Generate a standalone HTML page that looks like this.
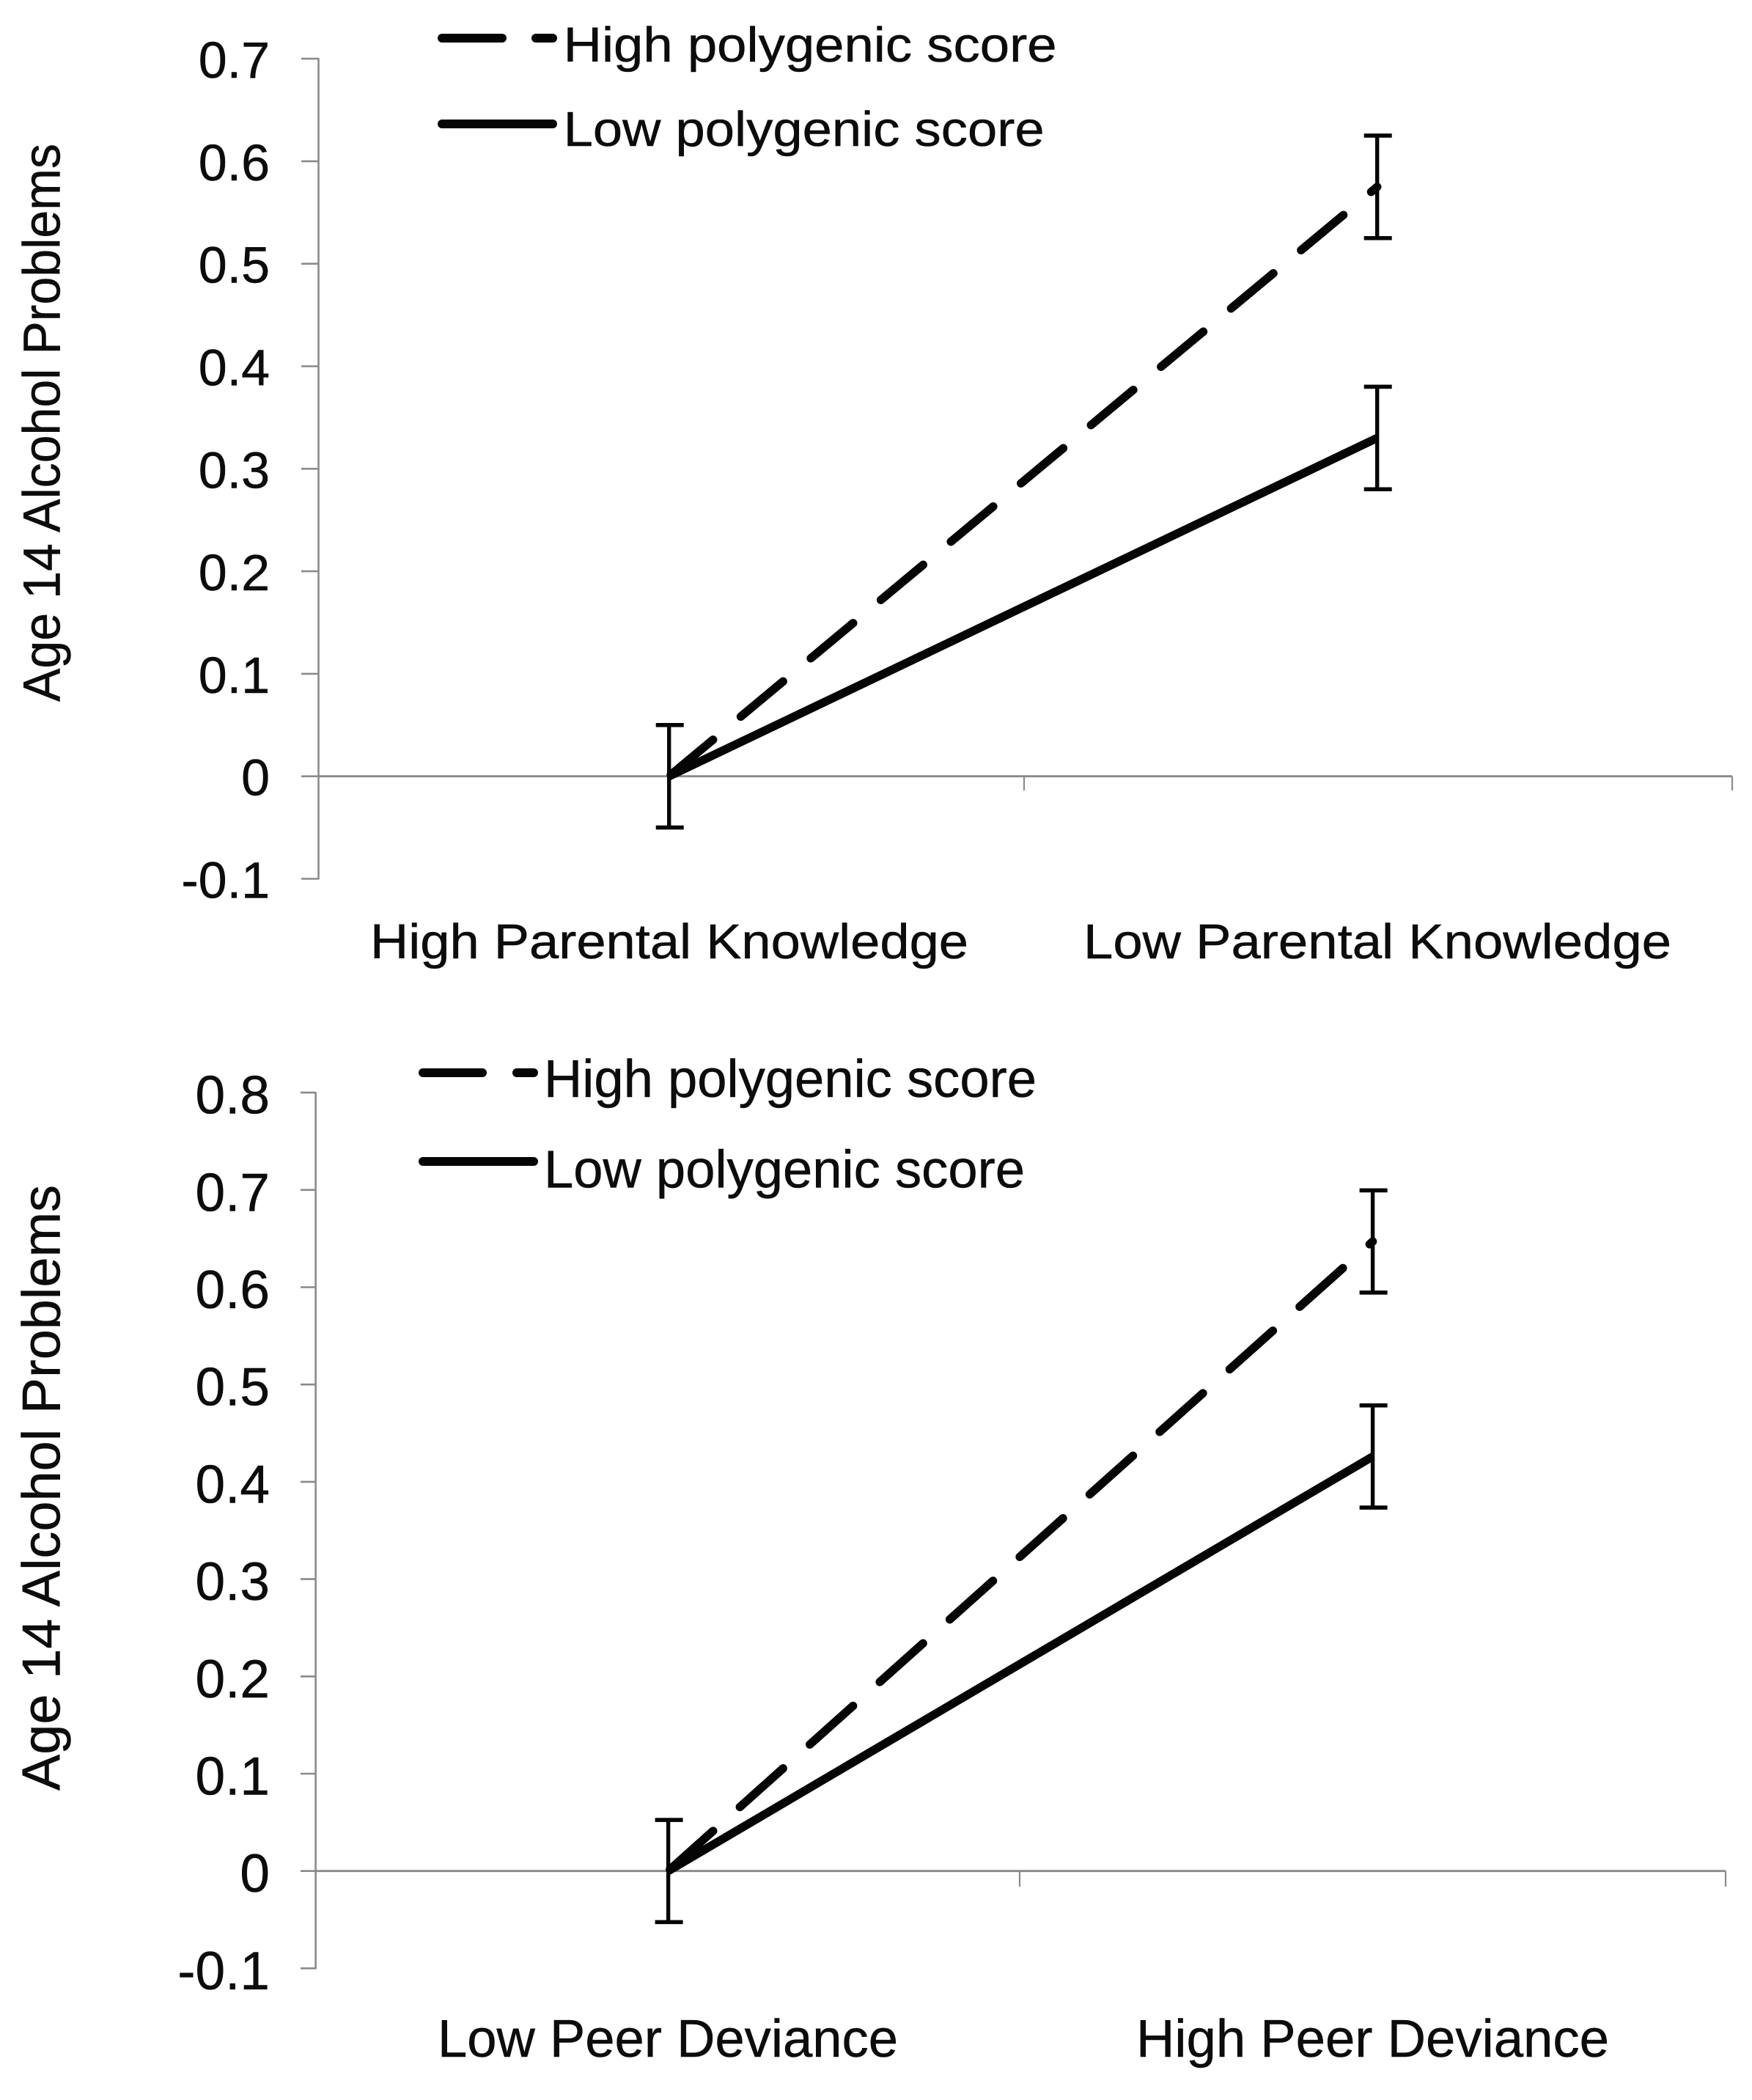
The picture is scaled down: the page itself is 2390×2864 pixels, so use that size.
<!DOCTYPE html>
<html lang="en">
<head>
<meta charset="utf-8">
<title>Age 14 Alcohol Problems by polygenic score</title>
<style>
html,body{margin:0;padding:0;background:#fff;width:2390px;height:2864px;overflow:hidden}
svg{display:block}
text{font-family:"Liberation Sans",Arial,sans-serif;fill:#0c0c0c;stroke:#0c0c0c;stroke-width:.5px}
</style>
</head>
<body>
<svg id="figure" xmlns="http://www.w3.org/2000/svg" width="2390" height="2864" viewBox="0 0 2390 2864">
  <rect width="2390" height="2864" fill="#fff"/>
  <g id="panel-top">
    <text transform="translate(81.5 957) rotate(-90)" font-size="71" textLength="761" lengthAdjust="spacingAndGlyphs">Age 14 Alcohol Problems</text>
    <g>
      <line x1="603" y1="52" x2="685" y2="52" stroke="#050505" stroke-width="12" stroke-linecap="round"/>
      <line x1="731" y1="52" x2="754" y2="52" stroke="#050505" stroke-width="12" stroke-linecap="round"/>
      <text x="768.6" y="84" font-size="67" textLength="673" lengthAdjust="spacingAndGlyphs">High polygenic score</text>
      <line x1="603" y1="169" x2="754" y2="169" stroke="#050505" stroke-width="12" stroke-linecap="round"/>
      <text x="768.6" y="199" font-size="67" textLength="656" lengthAdjust="spacingAndGlyphs">Low polygenic score</text>
    </g>
    <text x="505" y="1307" font-size="67" textLength="816" lengthAdjust="spacingAndGlyphs">High Parental Knowledge</text>
    <text x="1478" y="1307" font-size="67" textLength="802" lengthAdjust="spacingAndGlyphs">Low Parental Knowledge</text>
  </g>
  <g id="panel-bottom">
    <text transform="translate(81.5 2442) rotate(-90)" font-size="73" textLength="826" lengthAdjust="spacingAndGlyphs">Age 14 Alcohol Problems</text>
    <g>
      <line x1="577" y1="1463" x2="658" y2="1463" stroke="#050505" stroke-width="12" stroke-linecap="round"/>
      <line x1="705" y1="1463" x2="728" y2="1463" stroke="#050505" stroke-width="12" stroke-linecap="round"/>
      <text x="742" y="1496" font-size="72" textLength="672" lengthAdjust="spacingAndGlyphs">High polygenic score</text>
      <line x1="577" y1="1584" x2="728" y2="1584" stroke="#050505" stroke-width="12" stroke-linecap="round"/>
      <text x="742" y="1619.5" font-size="72" textLength="656" lengthAdjust="spacingAndGlyphs">Low polygenic score</text>
    </g>
    <text x="597" y="2805" font-size="72" textLength="628" lengthAdjust="spacingAndGlyphs">Low Peer Deviance</text>
    <text x="1550" y="2805" font-size="72" textLength="645" lengthAdjust="spacingAndGlyphs">High Peer Deviance</text>
  </g>
</svg>
<script>
const topTickValues = [0.7, 0.6, 0.5, 0.4, 0.3, 0.2, 0.1, 0, -0.1];
const topTickLabels = ['0.7', '0.6', '0.5', '0.4', '0.3', '0.2', '0.1', '0', '-0.1'];
const topHighSeries = [0, 0.575];
const topLowSeries = [0, 0.33];
const topHighError = [0.05, 0.05];
const topLowError = [0.05, 0.05];

const bottomTickValues = [0.8, 0.7, 0.6, 0.5, 0.4, 0.3, 0.2, 0.1, 0, -0.1];
const bottomTickLabels = ['0.8', '0.7', '0.6', '0.5', '0.4', '0.3', '0.2', '0.1', '0', '-0.1'];
const bottomHighSeries = [0, 0.647];
const bottomLowSeries = [0, 0.426];
const bottomHighError = [0.0525, 0.0525];
const bottomLowError = [0.0525, 0.0525];

const SVG_NS = 'http://www.w3.org/2000/svg';

function makeLine(parent, x1, y1, x2, y2, stroke, width, name) {
  const el = document.createElementNS(SVG_NS, 'line');
  el.setAttribute('x1', x1);
  el.setAttribute('y1', y1);
  el.setAttribute('x2', x2);
  el.setAttribute('y2', y2);
  el.setAttribute('stroke', stroke);
  el.setAttribute('stroke-width', width);
  
  
  parent.appendChild(el);
  return el;
}

function drawPanel(parent, opts) {
  const yScale = function (v) { return opts.zeroY - opts.unitY * v; };
  const xScale = function (i) { return opts.pointX + opts.pointStep * i; };
  const axisColor = '#8a8a8a';

  const yMax = Math.max.apply(null, opts.tickValues);
  const yMin = Math.min.apply(null, opts.tickValues);
  makeLine(parent, opts.axisX, yScale(yMax) - 1, opts.axisX, yScale(yMin) + 1, axisColor, 2.6, 'y-axis-line');

  opts.tickValues.forEach(function (v, i) {
    makeLine(parent, opts.tickLeft, yScale(v), opts.axisX, yScale(v), axisColor, 2.6, 'y-axis-tick');
    const label = document.createElementNS(SVG_NS, 'text');
    label.setAttribute('x', 368);
    label.setAttribute('y', yScale(v) + opts.labelDy);
    label.setAttribute('text-anchor', 'end');
    label.setAttribute('font-size', opts.tickFont);
    
    
    label.textContent = opts.tickLabels[i];
    parent.appendChild(label);
  });

  makeLine(parent, opts.axisX, yScale(0), opts.axisRight, yScale(0), axisColor, 2.8, 'x-axis-line');
  [opts.axisMid, opts.axisRight].forEach(function (x) {
    makeLine(parent, x, yScale(0), x, opts.xTickBottom, axisColor, 2.2, 'x-axis-tick');
  });

  const errs = [
    { s: opts.high, e: opts.highError, i: 1 },
    { s: opts.low, e: opts.lowError, i: 1 },
    { s: opts.low, e: opts.lowError, i: 0 }
  ];
  errs.forEach(function (d) {
    const x = xScale(d.i);
    const hi = yScale(d.s[d.i] + d.e[d.i]);
    const lo = yScale(d.s[d.i] - d.e[d.i]);
    makeLine(parent, x, hi, x, lo, '#050505', 5.4, 'error-bar-stem');
    makeLine(parent, x - 18, hi, x + 20, hi, '#050505', 5.6, 'error-bar-cap-top');
    makeLine(parent, x - 18, lo, x + 20, lo, '#050505', 5.6, 'error-bar-cap-bottom');
  });

  const lowLine = makeLine(parent, xScale(0), yScale(opts.low[0]), xScale(1), yScale(opts.low[1]), '#050505', 11.5, 'low-polygenic-series-line');
  lowLine.setAttribute('stroke-linecap', 'butt');

  const highLine = makeLine(parent, xScale(0), yScale(opts.high[0]), xScale(1), yScale(opts.high[1]), '#050505', 11.5, 'high-polygenic-series-line');
  highLine.setAttribute('stroke-linecap', 'round');
  highLine.setAttribute('stroke-dasharray', opts.dash);
  highLine.setAttribute('stroke-dashoffset', opts.dashOffset);
}

drawPanel(document.getElementById('panel-top'), {
  tickValues: topTickValues,
  tickLabels: topTickLabels,
  high: topHighSeries,
  low: topLowSeries,
  highError: topHighError,
  lowError: topLowError,
  zeroY: 1058.7,
  unitY: 1398,
  axisX: 434.5,
  axisMid: 1397,
  axisRight: 2363,
  tickLeft: 411,
  xTickBottom: 1078,
  pointX: 912.7,
  pointStep: 966,
  tickFont: 70,
  labelDy: 26,
  dash: '75 49.3',
  dashOffset: -3
});

drawPanel(document.getElementById('panel-bottom'), {
  tickValues: bottomTickValues,
  tickLabels: bottomTickLabels,
  high: bottomHighSeries,
  low: bottomLowSeries,
  highError: bottomHighError,
  lowError: bottomLowError,
  zeroY: 2551.7,
  unitY: 1327,
  axisX: 430.6,
  axisMid: 1391,
  axisRight: 2354,
  tickLeft: 410,
  xTickBottom: 2573,
  pointX: 911.6,
  pointStep: 961,
  tickFont: 73,
  labelDy: 28.5,
  dash: '79 49',
  dashOffset: -3
});
</script>
</body>
</html>
